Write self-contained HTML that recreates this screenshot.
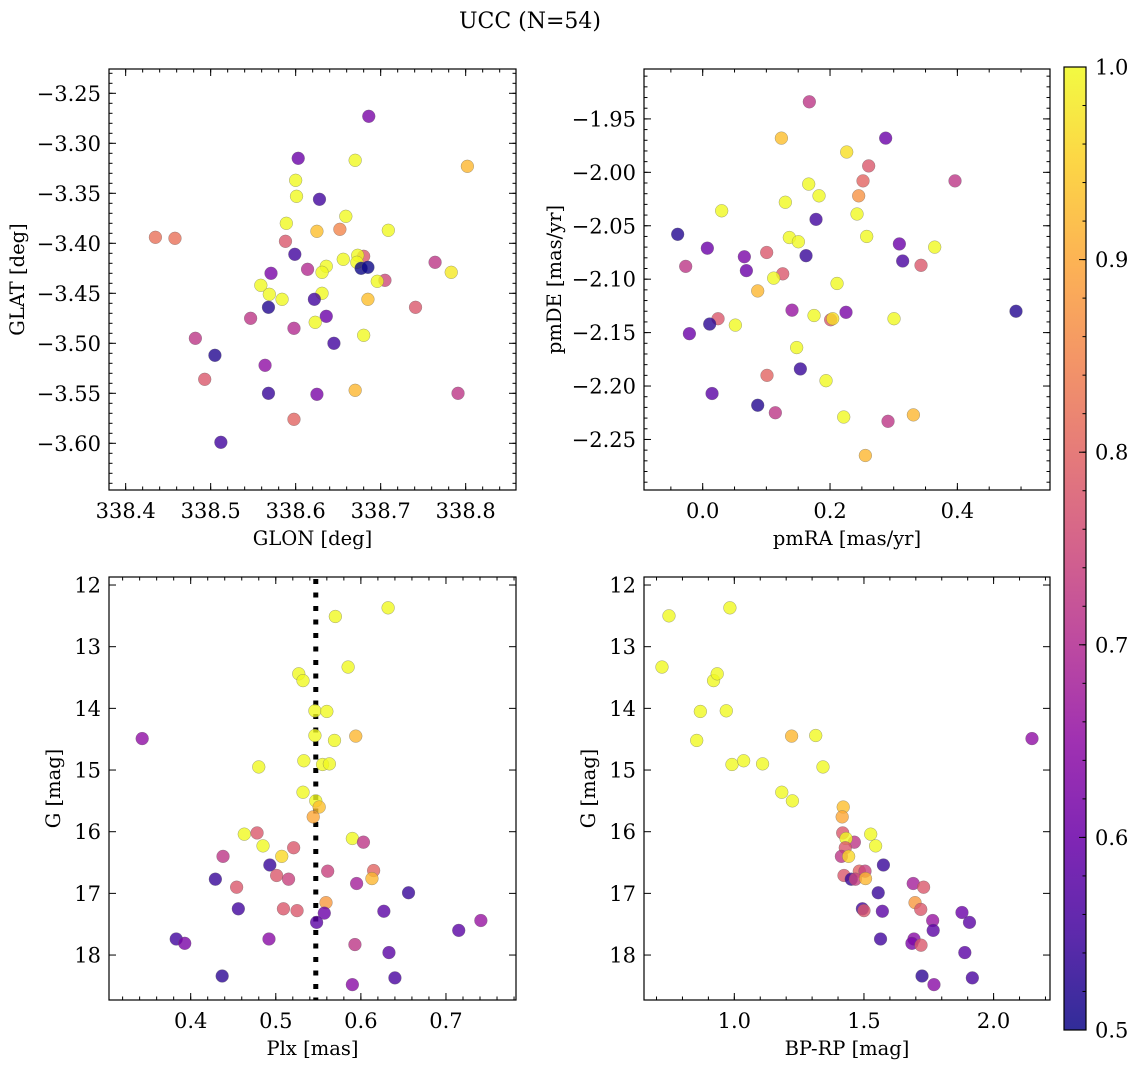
<!DOCTYPE html>
<html><head><meta charset="utf-8"><style>
html,body{margin:0;padding:0;background:#fff;}
svg{display:block;font-family:"DejaVu Serif","Liberation Serif",serif;}
</style></head><body>
<svg id="chart" width="1136" height="1067" viewBox="0 0 1136 1067" xmlns="http://www.w3.org/2000/svg">
<defs>
<linearGradient id="cbgrad" x1="0" y1="1" x2="0" y2="0">
<stop offset="0" stop-color="#0d0887"/><stop offset="0.1" stop-color="#41049d"/><stop offset="0.2" stop-color="#6a00a8"/><stop offset="0.3" stop-color="#8f0da4"/><stop offset="0.4" stop-color="#b12a90"/><stop offset="0.5" stop-color="#cc4778"/><stop offset="0.6" stop-color="#e16462"/><stop offset="0.7" stop-color="#f2844b"/><stop offset="0.8" stop-color="#fca636"/><stop offset="0.9" stop-color="#fcce25"/><stop offset="1" stop-color="#f0f921"/>
</linearGradient>
</defs>
<text x="530" y="28" font-size="22" text-anchor="middle">UCC (N=54)</text>
</svg>
<script>
// Panel 1: GLON vs GLAT
const p1x=[338.686,338.603,338.670,338.802,338.600,338.601,338.628,338.659,338.589,338.625,338.652,338.709,338.435,338.458,338.588,338.599,338.680,338.673,338.672,338.656,338.764,338.614,338.636,338.631,338.677,338.685,338.571,338.783,338.705,338.696,338.559,338.569,338.631,338.584,338.622,338.685,338.568,338.741,338.547,338.636,338.623,338.598,338.482,338.645,338.680,338.505,338.564,338.493,338.568,338.625,338.670,338.791,338.598,338.512];
const p1y=[-3.273,-3.315,-3.317,-3.323,-3.337,-3.353,-3.356,-3.373,-3.380,-3.388,-3.386,-3.387,-3.394,-3.395,-3.398,-3.411,-3.413,-3.412,-3.419,-3.416,-3.419,-3.426,-3.423,-3.429,-3.425,-3.424,-3.430,-3.429,-3.437,-3.438,-3.442,-3.451,-3.450,-3.456,-3.456,-3.456,-3.464,-3.464,-3.475,-3.473,-3.479,-3.485,-3.495,-3.500,-3.492,-3.512,-3.522,-3.536,-3.550,-3.551,-3.547,-3.550,-3.576,-3.599];
const p1c=[0.62,0.60,1.0,0.92,1.0,1.0,0.55,1.0,1.0,0.93,0.85,1.0,0.82,0.82,0.78,0.55,0.78,1.0,1.0,1.0,0.72,0.70,1.0,1.0,0.50,0.50,0.62,0.98,0.75,1.0,1.0,1.0,1.0,1.0,0.55,0.93,0.52,0.78,0.72,0.60,1.0,0.70,0.72,0.55,1.0,0.52,0.65,0.78,0.54,0.62,0.92,0.72,0.80,0.55];
// Panel 2: pmRA vs pmDE
const p2x=[0.1675,0.1236,0.2874,0.2262,0.2607,0.3963,0.2518,0.1665,0.1827,0.2450,0.0298,0.1298,0.2424,0.1780,-0.0393,0.1361,0.1503,0.2576,0.0073,0.3089,0.3644,0.0654,0.1005,0.1623,0.3141,0.3429,-0.0267,0.0686,0.1257,0.1115,0.2110,0.0864,0.1403,0.2251,0.1749,0.2010,0.2042,0.3005,0.4921,0.0241,0.0110,0.0513,-0.0209,0.1476,0.1534,0.1010,0.1937,0.0147,0.0864,0.1141,0.2215,0.3309,0.2911,0.2555];
const p2y=[-1.934,-1.968,-1.968,-1.981,-1.994,-2.008,-2.008,-2.011,-2.022,-2.022,-2.036,-2.028,-2.039,-2.044,-2.058,-2.061,-2.065,-2.060,-2.071,-2.067,-2.070,-2.079,-2.075,-2.078,-2.083,-2.087,-2.088,-2.092,-2.095,-2.099,-2.104,-2.111,-2.129,-2.131,-2.134,-2.138,-2.137,-2.137,-2.130,-2.137,-2.142,-2.143,-2.151,-2.164,-2.184,-2.190,-2.195,-2.207,-2.218,-2.225,-2.229,-2.227,-2.233,-2.265];
const p2c=[0.72,0.93,0.60,0.97,0.78,0.72,0.80,1.0,1.0,0.87,1.0,1.0,1.0,0.55,0.52,1.0,1.0,1.0,0.60,0.60,1.0,0.62,0.78,0.54,0.56,0.78,0.72,0.60,0.78,1.0,1.0,0.92,0.66,0.62,1.0,0.78,0.97,1.0,0.52,0.78,0.53,1.0,0.60,1.0,0.54,0.80,1.0,0.58,0.52,0.72,1.0,0.92,0.72,0.92];
// Panel 3: Plx vs G
const p3x=[0.632,0.570,0.585,0.527,0.532,0.546,0.560,0.343,0.546,0.594,0.569,0.533,0.555,0.563,0.480,0.532,0.547,0.551,0.544,0.463,0.478,0.590,0.603,0.485,0.521,0.438,0.507,0.493,0.561,0.615,0.429,0.501,0.515,0.613,0.454,0.595,0.656,0.559,0.456,0.509,0.525,0.557,0.627,0.548,0.741,0.715,0.383,0.393,0.492,0.593,0.633,0.437,0.640,0.590];
const p3y=[12.37,12.51,13.33,13.44,13.55,14.04,14.05,14.49,14.44,14.45,14.52,14.85,14.91,14.90,14.95,15.36,15.50,15.60,15.76,16.04,16.02,16.11,16.17,16.23,16.26,16.40,16.40,16.54,16.64,16.63,16.77,16.71,16.77,16.76,16.90,16.84,16.99,17.15,17.25,17.25,17.28,17.32,17.29,17.47,17.44,17.60,17.74,17.81,17.74,17.83,17.96,18.34,18.37,18.48];
const p3c=[1.0,1.0,1.0,1.0,1.0,1.0,1.0,0.65,1.0,0.92,1.0,1.0,1.0,1.0,1.0,1.0,1.0,0.93,0.90,1.0,0.78,1.0,0.72,1.0,0.78,0.72,0.96,0.54,0.74,0.80,0.54,0.78,0.74,0.92,0.78,0.68,0.54,0.88,0.55,0.78,0.78,0.60,0.58,0.58,0.66,0.58,0.55,0.62,0.64,0.72,0.58,0.53,0.56,0.64];
const plxMedian=0.547;
// Panel 4: BP-RP vs G
const p4x=[0.748,0.983,0.721,0.920,0.934,0.869,0.969,0.855,1.221,1.314,0.991,1.036,1.109,1.342,1.183,1.224,1.420,1.416,1.418,1.526,1.463,1.431,1.545,1.428,1.413,1.441,1.575,1.482,1.504,1.423,1.451,1.467,1.506,1.690,1.730,1.555,1.697,1.494,1.500,1.719,1.571,1.765,1.878,1.907,1.767,2.148,1.564,1.693,1.685,1.720,1.889,1.724,1.918,1.770];
const p4y=[12.50,12.37,13.33,13.55,13.44,14.05,14.04,14.52,14.45,14.44,14.91,14.85,14.90,14.95,15.36,15.50,15.60,15.76,16.02,16.04,16.17,16.11,16.23,16.26,16.40,16.40,16.54,16.64,16.64,16.71,16.77,16.77,16.76,16.84,16.90,16.99,17.15,17.25,17.28,17.26,17.29,17.44,17.31,17.47,17.60,14.49,17.74,17.74,17.81,17.84,17.96,18.34,18.37,18.48];
const p4c=[1.0,1.0,1.0,1.0,1.0,1.0,1.0,1.0,0.92,1.0,1.0,1.0,1.0,1.0,1.0,1.0,0.93,0.90,0.78,1.0,0.72,1.0,1.0,0.78,0.72,0.96,0.54,0.80,0.74,0.78,0.54,0.74,0.92,0.68,0.78,0.54,0.88,0.55,0.78,0.78,0.58,0.66,0.60,0.58,0.58,0.65,0.55,0.64,0.62,0.78,0.58,0.53,0.56,0.64];
// Tick labels
const p1xTicks=[338.4,338.5,338.6,338.7,338.8];
const p1yTicks=[-3.25,-3.30,-3.35,-3.40,-3.45,-3.50,-3.55,-3.60];
const p2xTicks=[0.0,0.2,0.4];
const p2yTicks=[-1.95,-2.00,-2.05,-2.10,-2.15,-2.20,-2.25];
const p3xTicks=[0.4,0.5,0.6,0.7];
const gTicks=[12,13,14,15,16,17,18];
const p4xTicks=[1.0,1.5,2.0];
const cbTicks=[0.5,0.6,0.7,0.8,0.9,1.0];

const NS='http://www.w3.org/2000/svg';
const svg=document.getElementById('chart');
const TFS=21, LFS=19.5;
function mk(tag,attrs,parent){const e=document.createElementNS(NS,tag);for(const k in attrs)e.setAttribute(k,attrs[k]);(parent||svg).appendChild(e);return e;}
const stops=[[13,8,135],[65,4,157],[106,0,168],[143,13,164],[177,42,144],[204,71,120],[225,100,98],[242,132,75],[252,166,54],[252,206,37],[240,249,33]];
function plasma(v){let t=Math.max(0,Math.min(1,(v-0.5)/0.5))*10;const i=Math.min(9,Math.floor(t)),f=t-i;const a=stops[i],b=stops[i+1];return 'rgb('+[0,1,2].map(k=>Math.round(a[k]+(b[k]-a[k])*f)).join(',')+')';}
function fmt(v,d){return (v<0?'\u2212':'')+Math.abs(v).toFixed(d);}

function panel(cfg){
  const g=mk('g',{});
  
  
  const {L,R,T,B,x0,x1,y0,y1}=cfg;
  const sx=v=>L+(v-x0)/(x1-x0)*(R-L);
  const sy=v=>B-(v-y0)/(y1-y0)*(B-T);
  if(cfg.vline!==undefined){
    const vl=mk('line',{x1:sx(cfg.vline),x2:sx(cfg.vline),y1:T+2,y2:B,stroke:'#000','stroke-width':5,'stroke-dasharray':'5,8.5'},g);
    
    
  }
  for(let i=0;i<cfg.xs.length;i++){
    const c=mk('circle',{cx:sx(cfg.xs[i]),cy:sy(cfg.ys[i]),r:6.4,fill:plasma(cfg.cs[i]),'fill-opacity':0.8,stroke:'#666','stroke-opacity':0.6,'stroke-width':0.5},g);
    
    
  }
  const tk=mk('g',{stroke:'#000','stroke-width':1},g);
  
  
  const eps=1e-9;
  for(let v=Math.ceil(x0/cfg.xMinor-eps)*cfg.xMinor;v<=x1+eps;v+=cfg.xMinor){const p=sx(v);if(p<L||p>R)continue;mk('line',{x1:p,x2:p,y1:B,y2:B-3.5},tk);mk('line',{x1:p,x2:p,y1:T,y2:T+3.5},tk);}
  for(let v=Math.ceil(y0/cfg.yMinor-eps)*cfg.yMinor;v<=y1+eps;v+=cfg.yMinor){const p=sy(v);if(p<T||p>B)continue;mk('line',{x1:L,x2:L+3.5,y1:p,y2:p},tk);mk('line',{x1:R,x2:R-3.5,y1:p,y2:p},tk);}
  cfg.xTicks.forEach(v=>{const p=sx(v);mk('line',{x1:p,x2:p,y1:B,y2:B-7},tk);mk('line',{x1:p,x2:p,y1:T,y2:T+7},tk);
    const t=mk('text',{x:p,y:B+28,'font-size':TFS,'text-anchor':'middle'},g);t.textContent=fmt(v,cfg.xd);
    
    });
  cfg.yTicks.forEach(v=>{const p=sy(v);mk('line',{x1:L,x2:L+7,y1:p,y2:p},tk);mk('line',{x1:R,x2:R-7,y1:p,y2:p},tk);
    const t=mk('text',{x:L-8,y:p+7.5,'font-size':TFS,'text-anchor':'end'},g);t.textContent=fmt(v,cfg.yd);
    
    });
  const fr=mk('rect',{x:L,y:T,width:R-L,height:B-T,fill:'none',stroke:'#000','stroke-width':1.2},g);
  
  
  const xl=mk('text',{x:(L+R)/2,y:B+55,'font-size':LFS,'text-anchor':'middle'},g);xl.textContent=cfg.xlabel;
  
  
  const yx=cfg.ylx,yy=(T+B)/2;
  const yl=mk('text',{x:yx,y:yy,'font-size':LFS,'text-anchor':'middle',transform:'rotate(-90 '+yx+' '+yy+')'},g);yl.textContent=cfg.ylabel;
  
  
}

panel({name:'glon-glat-panel',L:109,R:516,T:69,B:490,x0:338.3804,x1:338.8592,y0:-3.6467,y1:-3.2257,xs:p1x,ys:p1y,cs:p1c,xTicks:p1xTicks,yTicks:p1yTicks,xMinor:0.02,yMinor:0.01,xd:1,yd:2,xlabel:'GLON [deg]',ylabel:'GLAT [deg]',ylx:24});
panel({name:'pm-panel',L:644,R:1050,T:69,B:490,x0:-0.0922,x1:0.5455,y0:-2.2973,y1:-1.9033,xs:p2x,ys:p2y,cs:p2c,xTicks:p2xTicks,yTicks:p2yTicks,xMinor:0.05,yMinor:0.01,xd:1,yd:2,xlabel:'pmRA [mas/yr]',ylabel:'pmDE [mas/yr]',ylx:561});
panel({name:'plx-g-panel',L:109,R:516,T:577,B:1000,x0:0.304,x1:0.7823,y0:18.729,y1:11.87,xs:p3x,ys:p3y,cs:p3c,xTicks:p3xTicks,yTicks:gTicks,xMinor:0.02,yMinor:0.2,xd:1,yd:0,xlabel:'Plx [mas]',ylabel:'G [mag]',ylx:60,vline:plxMedian});
panel({name:'cmd-panel',L:644,R:1050,T:577,B:1000,x0:0.6517,x1:2.2175,y0:18.729,y1:11.87,xs:p4x,ys:p4y,cs:p4c,xTicks:p4xTicks,yTicks:gTicks,xMinor:0.1,yMinor:0.2,xd:1,yd:0,xlabel:'BP-RP [mag]',ylabel:'G [mag]',ylx:595});

const cb=mk('g',{});


const cT=67,cB=1030,cL=1064,cR=1086;
const cy=v=>cB-(v-0.5)/0.5*(cB-cT);
mk('rect',{x:cL,y:cT,width:cR-cL,height:cB-cT,fill:'url(#cbgrad)','fill-opacity':0.85},cb);
for(let v=0.52;v<1.0-1e-9;v+=0.02){const p=cy(v);mk('line',{x1:cR,x2:cR-3.5,y1:p,y2:p,stroke:'#000','stroke-width':1},cb);}
cbTicks.forEach(v=>{const p=cy(v);mk('line',{x1:cR,x2:cR-7,y1:p,y2:p,stroke:'#000','stroke-width':1},cb);
  const t=mk('text',{x:cR+9,y:p+7.5,'font-size':TFS},cb);t.textContent=v.toFixed(1);
  
  });
mk('rect',{x:cL,y:cT,width:cR-cL,height:cB-cT,fill:'none',stroke:'#000','stroke-width':1.2},cb);
</script>
</body></html>
